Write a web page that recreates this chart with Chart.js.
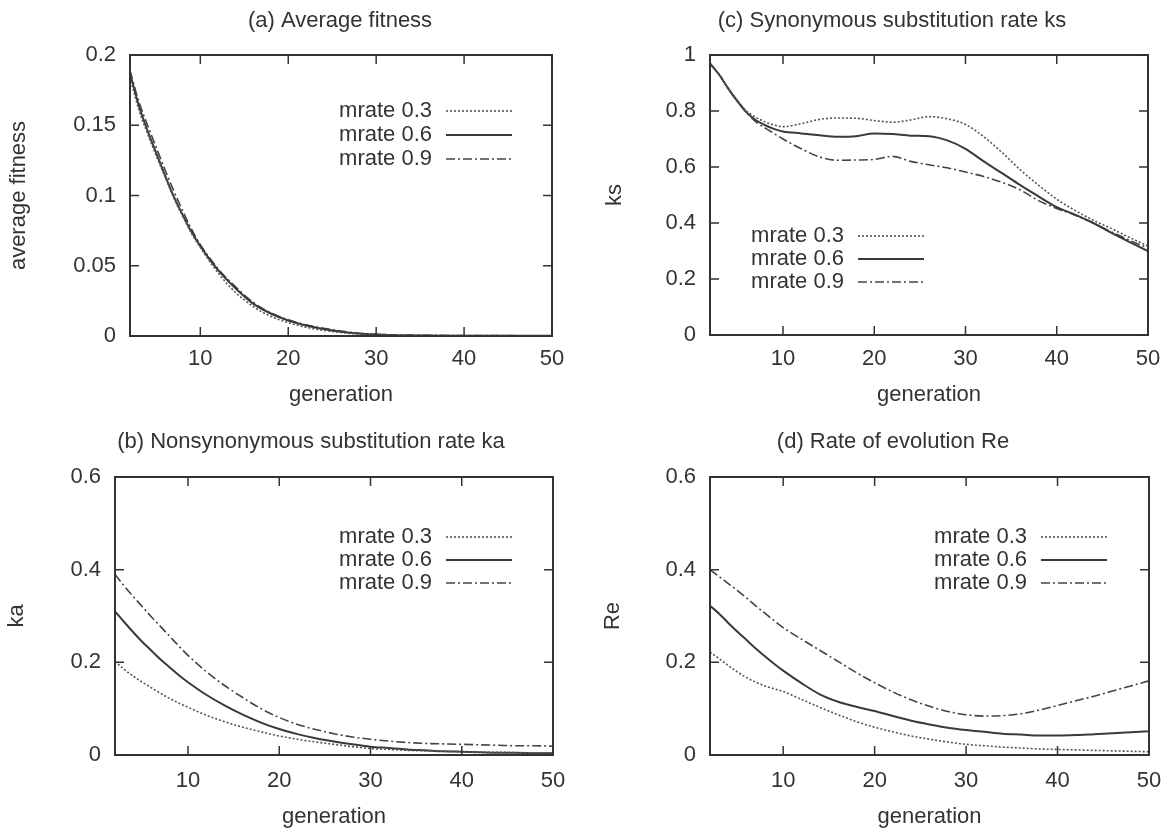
<!DOCTYPE html>
<html>
<head>
<meta charset="utf-8">
<title>mrate comparison</title>
<script src="https://cdn.jsdelivr.net/npm/chart.js@4.4.0/dist/chart.umd.min.js"></script>
<style>
  body { margin: 0; background: #fff; }
  #wrap { position: relative; width: 1176px; height: 831px; }
  .panel { position: absolute; }
</style>
</head>
<body>
<div id="wrap">
  <div class="panel" style="left:0;top:0;width:588px;height:415px"><canvas id="chartA"></canvas></div>
  <div class="panel" style="left:0;top:415px;width:588px;height:416px"><canvas id="chartB"></canvas></div>
  <div class="panel" style="left:588px;top:0;width:588px;height:415px"><canvas id="chartC"></canvas></div>
  <div class="panel" style="left:588px;top:415px;width:588px;height:416px"><canvas id="chartD"></canvas></div>
</div>
<script>
// generations sampled from the curves
const gens = [2, 3, 4, 5, 6, 7, 8, 9, 10, 12, 14, 16, 18, 20, 22, 24, 26, 28, 30, 32, 34, 36, 38, 40, 42, 44, 46, 48, 50];
const xTicks = [10, 20, 30, 40, 50];
const seriesLabels = ['mrate 0.3', 'mrate 0.6', 'mrate 0.9'];

// (a) average fitness
const fitness03 = [0.184, 0.161, 0.144, 0.128, 0.113, 0.098, 0.085, 0.073, 0.063, 0.045, 0.031, 0.021, 0.014, 0.0095, 0.0062, 0.004, 0.0025, 0.0014, 0.0008, 0.0005, 0.0004, 0.0003, 0.0003, 0.0002, 0.0002, 0.0002, 0.0001, 0.0001, 0.0001];
const fitness06 = [0.187, 0.164, 0.146, 0.130, 0.114, 0.099, 0.086, 0.074, 0.064, 0.047, 0.034, 0.023, 0.016, 0.011, 0.0075, 0.005, 0.003, 0.0017, 0.001, 0.0006, 0.0004, 0.0003, 0.0002, 0.0002, 0.0002, 0.0001, 0.0001, 0.0001, 0.0001];
const fitness09 = [0.189, 0.167, 0.150, 0.134, 0.118, 0.103, 0.089, 0.076, 0.065, 0.048, 0.035, 0.024, 0.0165, 0.0115, 0.008, 0.0055, 0.0035, 0.002, 0.0012, 0.0008, 0.0006, 0.0005, 0.0004, 0.0003, 0.0003, 0.0003, 0.0002, 0.0002, 0.0002];
const fitnessTicks = [0, 0.05, 0.1, 0.15, 0.2];

// (b) nonsynonymous substitution rate ka
const ka03 = [0.202, 0.185, 0.17, 0.157, 0.145, 0.133, 0.122, 0.112, 0.103, 0.086, 0.072, 0.06, 0.05, 0.041, 0.034, 0.028, 0.023, 0.018, 0.014, 0.012, 0.01, 0.009, 0.008, 0.007, 0.006, 0.006, 0.005, 0.005, 0.005];
const ka06 = [0.31, 0.287, 0.265, 0.244, 0.225, 0.206, 0.189, 0.172, 0.157, 0.13, 0.107, 0.087, 0.07, 0.056, 0.045, 0.036, 0.029, 0.023, 0.018, 0.015, 0.012, 0.01, 0.008, 0.007, 0.006, 0.005, 0.005, 0.004, 0.004];
const ka09 = [0.39, 0.365, 0.342, 0.32, 0.298, 0.277, 0.256, 0.235, 0.215, 0.18, 0.15, 0.124, 0.1, 0.081, 0.066, 0.055, 0.046, 0.039, 0.034, 0.030, 0.027, 0.025, 0.024, 0.023, 0.022, 0.021, 0.020, 0.020, 0.019];
const kaTicks = [0, 0.2, 0.4, 0.6];

// (c) synonymous substitution rate ks
const ks03 = [0.97, 0.93, 0.88, 0.838, 0.80, 0.778, 0.762, 0.75, 0.744, 0.755, 0.77, 0.775, 0.774, 0.766, 0.76, 0.768, 0.78, 0.772, 0.752, 0.708, 0.652, 0.59, 0.535, 0.485, 0.445, 0.41, 0.38, 0.348, 0.318];
const ks06 = [0.97, 0.93, 0.88, 0.835, 0.795, 0.768, 0.75, 0.736, 0.727, 0.72, 0.713, 0.708, 0.71, 0.72, 0.718, 0.712, 0.71, 0.695, 0.665, 0.62, 0.578, 0.535, 0.495, 0.457, 0.43, 0.4, 0.365, 0.332, 0.30];
const ks09 = [0.97, 0.93, 0.88, 0.835, 0.795, 0.762, 0.74, 0.72, 0.70, 0.665, 0.636, 0.624, 0.625, 0.627, 0.638, 0.62, 0.608, 0.597, 0.582, 0.566, 0.545, 0.518, 0.48, 0.452, 0.428, 0.40, 0.368, 0.338, 0.31];
const ksTicks = [0, 0.2, 0.4, 0.6, 0.8, 1];

// (d) rate of evolution Re
const re03 = [0.222, 0.208, 0.193, 0.179, 0.167, 0.157, 0.149, 0.143, 0.137, 0.12, 0.103, 0.087, 0.072, 0.06, 0.05, 0.041, 0.034, 0.028, 0.023, 0.02, 0.017, 0.015, 0.013, 0.012, 0.011, 0.01, 0.009, 0.008, 0.007];
const re06 = [0.322, 0.305, 0.285, 0.266, 0.248, 0.23, 0.213, 0.197, 0.182, 0.155, 0.131, 0.115, 0.104, 0.095, 0.084, 0.074, 0.066, 0.059, 0.054, 0.05, 0.046, 0.044, 0.042, 0.042, 0.043, 0.045, 0.047, 0.049, 0.051];
const re09 = [0.40, 0.385, 0.37, 0.355, 0.339, 0.322, 0.306, 0.29, 0.275, 0.25, 0.226, 0.202, 0.178, 0.156, 0.136, 0.119, 0.105, 0.094, 0.087, 0.084, 0.085, 0.089, 0.097, 0.107, 0.117, 0.127, 0.138, 0.149, 0.16];
const reTicks = [0, 0.2, 0.4, 0.6];

const FONT = "'Liberation Sans', Arial, Helvetica, sans-serif";
const INK = '#333';
Chart.defaults.font.family = FONT;
Chart.defaults.color = INK;

const lineStyles = [
  { borderColor: '#555', borderWidth: 1.6, borderDash: [2, 2] },
  { borderColor: '#3a3a3a', borderWidth: 2, borderDash: [] },
  { borderColor: '#444', borderWidth: 1.6, borderDash: [9, 3, 2, 3] }
];

// gnuplot style box with inward ticks on all four sides
const frameTicks = {
  id: 'frameTicks',
  afterDatasetsDraw(chart) {
    const { ctx, chartArea: a, scales: { x, y } } = chart;
    ctx.save();
    ctx.strokeStyle = INK;
    ctx.lineWidth = 2;
    ctx.strokeRect(a.left, a.top, a.right - a.left, a.bottom - a.top);
    ctx.lineWidth = 1.5;
    ctx.beginPath();
    x.ticks.forEach(t => {
      const px = x.getPixelForValue(t.value);
      ctx.moveTo(px, a.bottom); ctx.lineTo(px, a.bottom - 9);
      ctx.moveTo(px, a.top); ctx.lineTo(px, a.top + 9);
    });
    y.ticks.forEach(t => {
      const py = y.getPixelForValue(t.value);
      ctx.moveTo(a.left, py); ctx.lineTo(a.left + 9, py);
      ctx.moveTo(a.right, py); ctx.lineTo(a.right - 9, py);
    });
    ctx.stroke();
    ctx.restore();
  }
};

// panel title placed where the original has it
const panelTitle = {
  id: 'panelTitle',
  afterDraw(chart, args, opts) {
    const ctx = chart.ctx;
    ctx.save();
    ctx.font = '22px ' + FONT;
    ctx.fillStyle = INK;
    ctx.textAlign = 'center';
    ctx.textBaseline = 'middle';
    ctx.fillText(opts.text, opts.x, opts.y);
    ctx.restore();
  }
};

// key: label right-aligned, line sample after it
const keyLegend = {
  id: 'keyLegend',
  afterDatasetsDraw(chart, args, opts) {
    const ctx = chart.ctx;
    ctx.save();
    ctx.font = '22px ' + FONT;
    ctx.textAlign = 'right';
    ctx.textBaseline = 'middle';
    chart.data.datasets.forEach((ds, i) => {
      const y = opts.y + i * opts.gap;
      ctx.fillStyle = INK;
      ctx.fillText(ds.label, opts.x, y);
      ctx.strokeStyle = ds.borderColor;
      ctx.lineWidth = ds.borderWidth;
      ctx.setLineDash(ds.borderDash);
      ctx.beginPath();
      ctx.moveTo(opts.x + 14, y);
      ctx.lineTo(opts.x + 14 + opts.len, y);
      ctx.stroke();
    });
    ctx.restore();
  }
};

function makePanel(id, p) {
  const datasets = p.series.map((vals, i) => Object.assign({
    label: seriesLabels[i],
    data: gens.map((g, j) => ({ x: g, y: vals[j] })),
    pointRadius: 0,
    cubicInterpolationMode: 'monotone',
    fill: false
  }, lineStyles[i]));

  new Chart(document.getElementById(id), {
    type: 'line',
    data: { datasets },
    options: {
      responsive: true,
      maintainAspectRatio: false,
      animation: false,
      layout: { padding: p.pad },
      plugins: {
        legend: { display: false },
        tooltip: { enabled: false },
        panelTitle: { text: p.title, x: p.titleX, y: p.titleY },
        keyLegend: p.key
      },
      scales: {
        x: {
          type: 'linear', min: 2, max: 50,
          grid: { display: false, drawTicks: false },
          border: { display: false },
          afterBuildTicks: s => { s.ticks = xTicks.map(v => ({ value: v })); },
          afterFit: s => { s.height = p.xHeight; },
          ticks: { font: { size: 22 }, padding: p.xTickPad, autoSkip: false, maxRotation: 0 },
          title: { display: true, text: 'generation', font: { size: 22 }, padding: { top: 0, bottom: 1 } }
        },
        y: {
          type: 'linear', min: p.yTicks[0], max: p.yTicks[p.yTicks.length - 1],
          grid: { display: false, drawTicks: false },
          border: { display: false },
          afterBuildTicks: s => { s.ticks = p.yTicks.map(v => ({ value: v })); },
          afterFit: s => { s.width = p.yWidth; },
          ticks: { font: { size: 22 }, padding: 14, callback: v => String(+v.toFixed(3)) },
          title: { display: true, text: p.yTitle, font: { size: 22 }, padding: { top: p.yTitlePad, bottom: 0 } }
        }
      }
    },
    plugins: [frameTicks, panelTitle, keyLegend]
  });
}

makePanel('chartA', {
  series: [fitness03, fitness06, fitness09], yTicks: fitnessTicks,
  title: '(a) Average fitness', titleX: 340, titleY: 21,
  yTitle: 'average fitness', yTitlePad: 6, yWidth: 130, xHeight: 73, xTickPad: 10,
  pad: { top: 55, right: 36, bottom: 6, left: 0 },
  key: { x: 432, y: 111, gap: 24, len: 66 }
});

makePanel('chartB', {
  series: [ka03, ka06, ka09], yTicks: kaTicks,
  title: '(b) Nonsynonymous substitution rate ka', titleX: 311, titleY: 27,
  yTitle: 'ka', yTitlePad: 4, yWidth: 115, xHeight: 76, xTickPad: 13,
  pad: { top: 62, right: 35, bottom: 0, left: 0 },
  key: { x: 432, y: 122, gap: 23, len: 66 }
});

makePanel('chartC', {
  series: [ks03, ks06, ks09], yTicks: ksTicks,
  title: '(c) Synonymous substitution rate ks', titleX: 304, titleY: 21,
  yTitle: 'ks', yTitlePad: 14, yWidth: 122, xHeight: 74, xTickPad: 11,
  pad: { top: 55, right: 28, bottom: 6, left: 0 },
  key: { x: 256, y: 236, gap: 23, len: 66 }
});

makePanel('chartD', {
  series: [re03, re06, re09], yTicks: reTicks,
  title: '(d) Rate of evolution Re', titleX: 305, titleY: 27,
  yTitle: 'Re', yTitlePad: 12, yWidth: 122, xHeight: 76, xTickPad: 13,
  pad: { top: 62, right: 27, bottom: 0, left: 0 },
  key: { x: 439, y: 122, gap: 23, len: 66 }
});
</script>
</body>
</html>
